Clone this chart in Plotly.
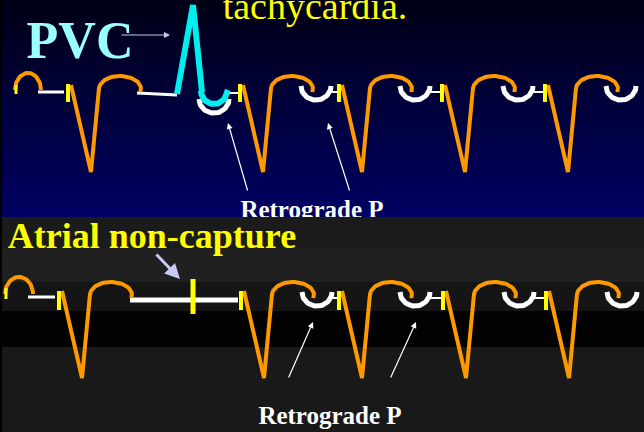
import numpy as np
import plotly.graph_objects as go

W, H = 644, 432
SPLIT = 217  # pixel row where the lower panel starts

# --- strip data (pixel units) ---
top_baseline = 92
bottom_baseline = 298
top_spikes = [68, 240, 339, 442, 545]        # paced beats, upper strip
bottom_spikes = [59, 241, 339, 443, 546]     # paced beats, lower strip
retro_after = [False, True, True, True, True]  # beat followed by retrograde P

# paced QRS template relative to spike / baseline
qrs_dx = [3, 23, 31]
qrs_dy = [-7, 80, -4]
t_wave = dict(dx=52, dy=-3, rx=21, ry=13)
retro_p = dict(dx=76, dy=-6, rx=15, ry=14)

# PVC (upper strip)
pvc_x = [177, 193, 202]
pvc_y = [94, 5, 92]
pvc_onset_line = ([137, 177], [93, 95])

# non-captured atrial spike (lower strip)
noncapture_x = 193
noncapture_line = ([130, 238], [300, 300])

ORANGE = "#ff9900"
YELLOW = "#ffff00"
WHITE = "#ffffff"
CYAN = "#00eeee"
LAVENDER = "#c8c8f4"
SERIF = "Liberation Serif, Times New Roman, serif"


def arc(cx, cy, rx, ry, t0, t1, down=False, n=40):
    t = np.linspace(t0, t1, n)
    sgn = 1 if down else -1
    return list(cx + rx * np.cos(t)), list(cy + sgn * ry * np.sin(t))


fig = go.Figure()


def line(x, y, color, width, ax):
    fig.add_trace(go.Scatter(x=x, y=y, mode="lines", line=dict(color=color, width=width),
                             xaxis=ax[0], yaxis=ax[1], hoverinfo="skip", cliponaxis=True))


def strip(spikes, base, ax, spike_len):
    for i, s in enumerate(spikes):
        if retro_after[i]:
            ux, uy = arc(s + retro_p["dx"], base + retro_p["dy"], retro_p["rx"], retro_p["ry"],
                         np.pi, 0, down=True)
            line(ux, uy, WHITE, 5, ax)
            if i + 1 < len(spikes):
                line([s + 91, spikes[i + 1] - 2], [base, base], WHITE, 2, ax)
        qx = [s + d for d in qrs_dx]
        qy = [base + d for d in qrs_dy]
        tx, ty = arc(s + t_wave["dx"], base + t_wave["dy"], t_wave["rx"], t_wave["ry"],
                     np.pi, -0.24)
        line(qx + tx, qy + ty, ORANGE, 4, ax)
        line([s, s], [base - spike_len[0], base + spike_len[1]], YELLOW, 4, ax)


# ---------------- upper strip ----------------
ax1 = ("x", "y")
line([38, 64], [top_baseline, top_baseline], WHITE, 3, ax1)
px_, py_ = arc(28, 90, 13, 17, np.pi, 0)
line(px_, py_, ORANGE, 4, ax1)
line([16, 16], [85, 94], YELLOW, 3, ax1)
line(*pvc_onset_line, WHITE, 3, ax1)
line([228, 238], [93, 93], WHITE, 2, ax1)
strip(top_spikes, top_baseline, ax1, (8, 10))
# retrograde P under the PVC
wx, wy = arc(214, 99, 15, 14, np.pi, 0, down=True)
line(wx, wy, WHITE, 5, ax1)
cx_, cy_ = arc(214, 91, 13, 13, np.pi, 0, down=True)
line(pvc_x + cx_ + [228], pvc_y + cy_ + [90], CYAN, 6, ax1)

# ---------------- lower strip ----------------
ax2 = ("x2", "y2")
line([28, 55], [297, 297], WHITE, 3, ax2)
px_, py_ = arc(19, 294, 14, 17, np.pi, 0)
line(px_, py_, ORANGE, 4, ax2)
line([6, 6], [288, 299], YELLOW, 3, ax2)
line(*noncapture_line, WHITE, 5, ax2)
line([noncapture_x, noncapture_x], [279, 314], YELLOW, 5, ax2)
strip(bottom_spikes, bottom_baseline, ax2, (7, 12))


# ---------------- text ----------------
def label(x, y, txt, size, color, bold, ax):
    fig.add_trace(go.Scatter(x=[x], y=[y], mode="text", text=[txt], textposition="middle center",
                             textfont=dict(family=SERIF, size=size, color=color,
                                           weight="bold" if bold else "normal"),
                             xaxis=ax[0], yaxis=ax[1], hoverinfo="skip", cliponaxis=True))


label(80, 45, "PVC", 52, "#99ffff", True, ax1)
label(315, 9, "tachycardia.", 38, YELLOW, False, ax1)
label(312, 212, "Retrograde P", 25, WHITE, True, ax1)
label(152, 239, "Atrial non-capture", 36, YELLOW, True, ax2)
label(330, 418, "Retrograde P", 25, WHITE, True, ax2)

# ---------------- backgrounds ----------------
shapes = []
n = 40
for k in range(n):
    y0 = SPLIT * k / n
    y1 = SPLIT * (k + 1) / n + 0.6
    b = int(22 + (100 - 22) * (k + 0.5) / n)
    shapes.append(dict(type="rect", xref="x", yref="y", x0=0, x1=W, y0=y0, y1=y1,
                       fillcolor=f"rgb(0,0,{b})", line_width=0, layer="below"))
bands = [(217, 248, "#1b1b1b"), (248, 282, "#202020"), (282, 311, "#151515"),
         (311, 347, "#020202"), (347, 432, "#191919")]
for y0, y1, c in bands:
    shapes.append(dict(type="rect", xref="x2", yref="y2", x0=0, x1=W, y0=y0, y1=y1,
                       fillcolor=c, line_width=0, layer="below"))
shapes.append(dict(type="rect", xref="x", yref="y", x0=0, x1=2, y0=0, y1=SPLIT,
                   fillcolor="#000000", line_width=0, layer="below"))
shapes.append(dict(type="rect", xref="x2", yref="y2", x0=0, x1=2, y0=SPLIT, y1=H,
                   fillcolor="#000000", line_width=0, layer="below"))

# ---------------- arrows ----------------
def arrow(tip, tail, color, width, ax, size=1.0):
    return dict(x=tip[0], y=tip[1], ax=tail[0], ay=tail[1], xref=ax[0], yref=ax[1],
                axref=ax[0], ayref=ax[1], text="", showarrow=True, arrowhead=2,
                arrowsize=size, arrowwidth=width, arrowcolor=color)


annotations = [
    arrow((170, 35), (120, 35), LAVENDER, 1, ax1, 1.2),
    arrow((228, 123), (248, 192), WHITE, 1.2, ax1),
    arrow((328, 123), (350, 192), WHITE, 1.2, ax1),
    arrow((180, 279), (155, 253), LAVENDER, 3, ax2, 1.0),
    arrow((313, 322), (288, 379), WHITE, 1.2, ax2),
    arrow((416, 322), (390, 379), WHITE, 1.2, ax2),
]

top_dom = [1 - SPLIT / H, 1]
bot_dom = [0, 1 - SPLIT / H]
fig.update_layout(
    width=W, height=H, margin=dict(l=0, r=0, t=0, b=0),
    paper_bgcolor="#000000", plot_bgcolor="rgba(0,0,0,0)", showlegend=False,
    xaxis=dict(range=[0, W], visible=False, anchor="y", fixedrange=True),
    yaxis=dict(range=[SPLIT, 0], domain=top_dom, visible=False, anchor="x", fixedrange=True),
    xaxis2=dict(range=[0, W], visible=False, anchor="y2", fixedrange=True),
    yaxis2=dict(range=[H, SPLIT], domain=bot_dom, visible=False, anchor="x2", fixedrange=True),
    shapes=shapes, annotations=annotations,
)

# the page's default 8px body margin would shift the whole slide
fig.write_html("out.html", config={"displayModeBar": False},
               post_script="document.body.style.margin='0';document.body.style.overflow='hidden';")
